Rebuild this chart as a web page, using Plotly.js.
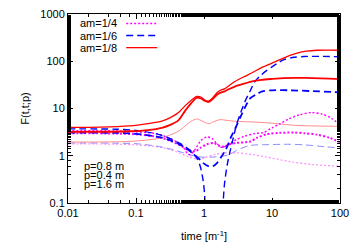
<!DOCTYPE html>
<html><head><meta charset="utf-8">
<script src="https://cdn.plot.ly/plotly-3.0.1.min.js"></script>
<style>html,body{margin:0;padding:0;background:#fff}#chart{width:360px;height:252px}</style>
</head><body><div id="chart"></div>
<script>
// am=1/8 (red, solid)
const red04X = [0.01,0.03,0.08,0.15,0.24,0.32,0.4,0.45,0.53,0.65,0.78,0.9,1.0,1.16,1.35,1.55,1.72,2.0,2.3,2.89,4.0,5.1,7,10.2,15,22,32,46,70,100];
const red04Y = [4.0,4.05,4.3,4.8,5.4,6.4,7.8,9.0,11.5,15,18,17.5,15.5,14.3,17,21.5,24,26,30,37.7,48,57,73,92,118,145,163,171,172,171];
const red08X = [0.01,0.03,0.08,0.15,0.24,0.32,0.42,0.53,0.65,0.78,0.9,1.0,1.16,1.35,1.55,1.72,2.0,2.3,2.89,4.0,5.1,7,10.2,15,22,40,70,100];
const red08Y = [3.2,3.22,3.3,3.5,3.9,4.5,5.6,9.0,13,16.8,16.3,14.8,13.6,16,19.5,21.4,23,25.5,29.5,34,37.7,40.5,42.4,44,44.4,44,43,42];
const red16X = [0.01,0.05,0.1,0.24,0.42,0.53,0.65,0.78,0.9,1.05,1.2,1.4,1.72,2.2,2.9,5,9,22,50,100];
const red16Y = [1.95,1.97,2.05,2.4,3.3,4.3,5.4,6.0,5.6,5.0,4.8,5.3,5.8,5.6,5.35,5.2,4.95,4.4,4.25,4.2];
// am=1/6 (blue, dashed)
const blue04X = [0.01,0.05,0.1,0.2,0.3,0.45,0.63,0.78,0.88,0.97,1.02,1.06,1.4,1.84,1.9,2.0,2.2,2.45,2.7,3.0,3.5,4.0,4.8,5.6,7,8.4,10,12,15,20,30,50,100];
const blue04Y = [3.7,3.65,3.45,2.9,2.4,1.8,1.3,0.9,0.6,0.3,0.15,0.005,null,0.005,0.08,0.25,0.65,1.35,2.4,4.5,8.5,14,24,37,52,64,76,90,108,120,126,127,124];
const blue08X = [0.01,0.05,0.1,0.2,0.3,0.45,0.6,0.75,0.88,1.0,1.16,1.35,1.55,1.8,2.0,2.2,2.5,3.0,3.5,4.0,4.8,5.9,7.2,10,18.5,40,100];
const blue08Y = [3.1,3.05,2.9,2.55,2.2,1.7,1.3,1.0,0.82,0.68,0.6,0.6,0.7,0.95,1.2,1.58,2.5,4.3,7,10.5,16.5,20,23,24.3,24.3,23.3,22];
const blue16X = [0.01,0.05,0.1,0.2,0.35,0.5,0.7,1.0,1.5,2.4,3.0,4.8,9,18.5,30,60,100];
const blue16Y = [1.87,1.85,1.8,1.6,1.35,1.15,1.0,0.93,0.95,1.06,1.3,1.65,1.72,1.75,1.7,1.55,1.46];
// am=1/4 (magenta, dotted)
const mag04X = [0.01,0.05,0.1,0.21,0.3,0.47,0.56,0.63,0.75,0.9,1.1,1.3,1.55,1.8,2.1,2.5,3.0,4,5.6,7.5,10,13,17.5,25,38,55,75,100];
const mag04Y = [3.4,3.35,3.2,2.9,2.4,1.7,1.15,1.05,1.4,2.1,2.5,2.35,1.8,1.5,1.6,1.9,2.2,2.6,2.95,3.1,3.9,4.7,6.0,7.3,8.2,7.6,6.2,4.5];
const mag08X = [0.01,0.05,0.1,0.21,0.3,0.47,0.6,0.75,0.88,1.1,1.4,1.72,2.0,2.3,3.0,4.8,6,8.4,13,21,30,46,70,100];
const mag08Y = [3.0,2.95,2.85,2.5,2.15,1.6,1.3,1.25,1.46,1.75,1.85,1.58,1.55,1.72,1.87,2.0,2.4,2.85,3.05,3.1,3.0,2.8,2.4,1.93];
const mag16X = [0.01,0.05,0.1,0.24,0.4,0.6,0.8,1.0,1.4,2.0,3,4.3,8,18.5,40,100];
const mag16Y = [1.78,1.76,1.7,1.5,1.2,0.95,0.85,0.9,1.05,1.15,1.15,1.1,0.95,0.75,0.65,0.6];

const legendLabels = ["am=1/4","am=1/6","am=1/8"];
const pLabels = ["p=0.8 m","p=0.4 m","p=1.6 m"];
const xTickVals = [0.01,0.1,1,10,100];
const xTickText = ["0.01","0.1","1","10","100"];
const yTickVals = [0.1,1,10,100,1000];
const yTickText = ["0.1","1","10","100","1000"];

const RED="#ff0000", BLUE="#0000ff", MAG="#ff00ff";
const LRED="#ff8c8c", LBLUE="#8c8cff", LMAG="#ff8cff";
const DASH="7px,4px", DOT="2px,2px";

function tr(x,y,color,width,dash){
  return {x:x,y:y,type:'scatter',mode:'lines',showlegend:false,hoverinfo:'skip',
    line:{color:color,width:width,dash:dash,shape:'spline',smoothing:0.8}};
}
const data = [
  tr(mag16X,mag16Y,LMAG,1.2,DOT),
  tr(blue16X,blue16Y,LBLUE,1,DASH),
  tr(red16X,red16Y,LRED,1,'solid'),
  tr(mag04X,mag04Y,MAG,1.4,DOT),
  tr(mag08X,mag08Y,MAG,2,DOT),
  tr(blue04X,blue04Y,BLUE,1.4,DASH),
  tr(blue08X,blue08Y,BLUE,1.8,DASH),
  tr(red04X,red04Y,RED,1.3,'solid'),
  tr(red08X,red08Y,RED,1.8,'solid')
];

const FONT = {family:'"Liberation Sans", Arial, sans-serif', size:11, color:'#000'};
const annotations = [];
const shapes = [];
const legStyles = [[MAG,DOT,1.4],[BLUE,DASH,1.4],[RED,'solid',1.3]];
const legRowY = [0.95,0.886,0.822];
legendLabels.forEach((t,i)=>{
  annotations.push({xref:'paper',yref:'paper',x:0.186,y:legRowY[i],text:t,showarrow:false,xanchor:'right',yanchor:'middle',font:FONT});
  shapes.push({type:'line',xref:'paper',yref:'paper',x0:0.214,x1:0.328,y0:legRowY[i],y1:legRowY[i],
    line:{color:legStyles[i][0],dash:legStyles[i][1],width:legStyles[i][2]}});
});
const pRowY = [0.198,0.150,0.101];
pLabels.forEach((t,i)=>{
  annotations.push({xref:'paper',yref:'paper',x:0.05,y:pRowY[i],text:t,showarrow:false,xanchor:'left',yanchor:'middle',font:FONT});
});

const axisCommon = {type:'log',showgrid:false,zeroline:false,showline:true,linecolor:'#000',linewidth:1,
  mirror:'allticks',ticks:'inside',ticklen:5,tickcolor:'#000',tickfont:FONT,
  minor:{ticks:'inside',ticklen:3,tickcolor:'#000',showgrid:false}};
const layout = {
  width:360,height:252,margin:{l:68,r:20,t:14,b:49},
  paper_bgcolor:'#fff',plot_bgcolor:'#fff',font:FONT,
  xaxis:Object.assign({},axisCommon,{range:[-2,2],tickvals:xTickVals,ticktext:xTickText,
    title:{text:'time [m<sup>-1</sup>]',font:FONT,standoff:14}}),
  yaxis:Object.assign({},axisCommon,{range:[-1,3],tickvals:yTickVals,ticktext:yTickText,
    title:{text:'F(t,t;p)',font:FONT,standoff:8}}),
  annotations:annotations,shapes:shapes
};
Plotly.newPlot('chart',data,layout,{staticPlot:true,displayModeBar:false});
</script></body></html>
